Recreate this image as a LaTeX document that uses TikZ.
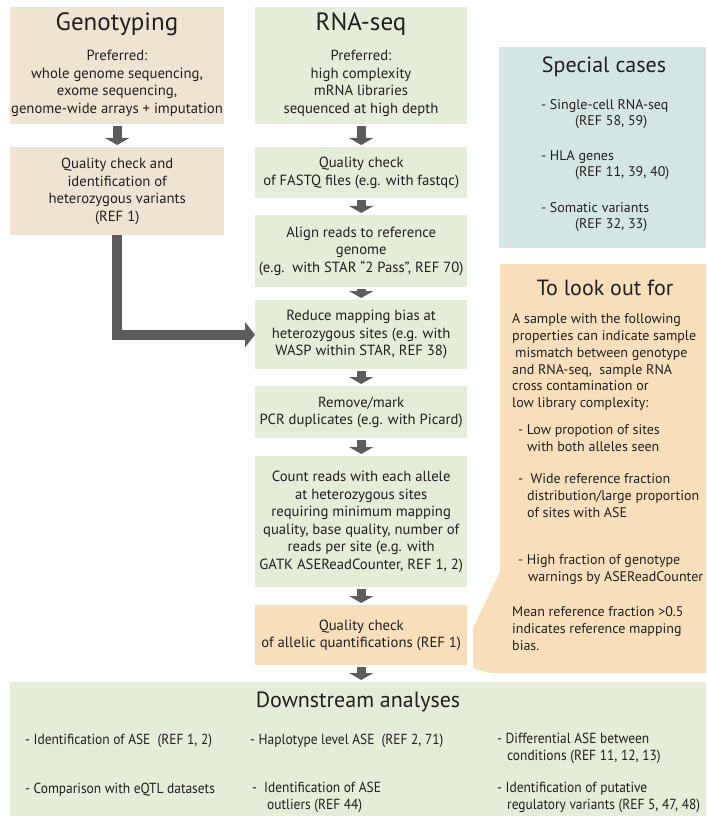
\documentclass[tikz,border=0pt]{standalone}
\usepackage{fontspec}
\setmainfont{PT Sans}
\usetikzlibrary{arrows.meta}
\definecolor{genocol}{HTML}{EFE3D1}
\definecolor{rnacol}{HTML}{E3EDD7}
\definecolor{specialcol}{HTML}{D4E6E4}
\definecolor{lookcol}{HTML}{F8DFBB}
\definecolor{arrowcol}{HTML}{5C5C5C}
\definecolor{inkcol}{HTML}{231F20}
\newcommand{\bodyfont}{\fontsize{14.7}{17.5}\selectfont}
\newcommand{\headfont}{\fontsize{25}{28}\selectfont}
\newcommand{\subheadfont}{\fontsize{22}{26}\selectfont}
\newcommand{\smallfont}{\fontsize{14}{16.5}\selectfont}
\newcommand{\lookfont}{\fontsize{14}{16.8}\selectfont}
\newcommand{\narrowfont}{\fontsize{14.6}{17}\selectfont\addfontfeature{FakeStretch=0.92}}
\begin{document}
\begin{tikzpicture}[x=1pt,y=-1pt,
  box/.style={anchor=north west, inner sep=0pt, align=center, text=inkcol, font=\bodyfont},
  genobox/.style={box, fill=genocol},
  rnabox/.style={box, fill=rnacol},
  lookbox/.style={box, fill=lookcol},
  txt/.style={inner sep=0pt, text=inkcol, font=\bodyfont, align=center},
  ltxt/.style={txt, align=left, anchor=north west, execute at begin node=\strut},
  flow/.style={draw=arrowcol, line width=9pt, -{Triangle[width=24pt,length=7pt]}, shorten <=2pt, shorten >=2pt},
  bigflow/.style={draw=arrowcol, line width=10pt, -{Triangle[width=25pt,length=10pt]}}]
\useasboundingbox (0,0) rectangle (706,818);

% genotyping column
\node[genobox, minimum width=214pt, minimum height=117pt] (geno) at (10,7) {};
\node[txt, font=\headfont] (genotitle) at (117,24) {Genotyping};
\node[txt] (genotext) at (117,83.5) {Preferred:\\whole genome sequencing,\\exome sequencing,\\genome-wide arrays + imputation};
\node[genobox, minimum width=214pt, minimum height=88pt] (geqc) at (10,147)
  {Quality check and\\identification of\\heterozygous variants\\(REF 1)};

% RNA-seq column
\node[rnabox, minimum width=212pt, minimum height=117pt] (rna) at (255,7) {};
\node[txt, font=\headfont] (rnatitle) at (361,24) {RNA-seq};
\node[txt] (rnatext) at (361,83.5) {Preferred:\\high complexity\\mRNA libraries\\sequenced at high depth};
\node[rnabox, minimum width=212pt, minimum height=51pt] (fastq) at (255,147)
  {Quality check\\of FASTQ files (e.g. with fastqc)};
\node[rnabox, minimum width=212pt, minimum height=72pt] (align) at (255,215)
  {Align reads to reference\\genome\\(e.g.\ \ with STAR “2 Pass”, REF 70)};
\node[rnabox, minimum width=212pt, minimum height=69pt] (reduce) at (255,300)
  {Reduce mapping bias at\\heterozygous sites (e.g. with\\WASP within STAR, REF 38)};
\node[rnabox, minimum width=212pt, minimum height=52pt] (remove) at (255,386)
  {Remove/mark\\PCR duplicates (e.g. with Picard)};
\node[rnabox, minimum width=212pt, minimum height=131pt] (count) at (255,456)
  {Count reads with each allele\\at heterozygous sites\\requiring minimum mapping\\quality, base quality, number of\\reads per site (e.g. with\\GATK ASEReadCounter, REF 1, 2)};
\node[lookbox, minimum width=212pt, minimum height=60pt] (qcase) at (255,605)
  {Quality check\\of allelic quantifications (REF 1)};

% special cases
\node[box, fill=specialcol, minimum width=207pt, minimum height=201pt] (special) at (499,47) {};
\node[txt, font=\subheadfont] (specialtitle) at (604,67) {Special cases};
\node[ltxt, font=\smallfont] (sc1) at (541,99) {- Single-cell RNA-seq\\\hspace*{34pt}(REF 58, 59)};
\node[ltxt, font=\smallfont] (sc2) at (541,150) {- HLA genes\\\hspace*{34pt}(REF 11, 39, 40)};
\node[ltxt, font=\smallfont] (sc3) at (541,202) {- Somatic variants\\\hspace*{34pt}(REF 32, 33)};

% things to look out for, with its pointer
\fill[lookcol] (500,264) -| (706,673) -- (490,673) -- (473,668) -- (473,628) -- (500,572) -- cycle;
\node[txt, font=\subheadfont] (looktitle) at (605,288) {To look out for};
\node[ltxt, font=\lookfont] (lookintro) at (512,313.5)
  {A sample with the following\\properties can indicate sample\\\hspace*{3pt}mismatch between genotype\\and RNA-seq,\ \ sample RNA\\cross contamination or\\low library complexity:};
\node[ltxt, font=\lookfont] (look1) at (518,424.5)
  {- Low propotion of sites\\\hspace*{9pt}with both alleles seen};
\node[ltxt, font=\lookfont] (look2) at (518,473.5)
  {-\ \ Wide reference fraction\\\hspace*{9pt}distribution/large proportion\\\hspace*{9pt}of sites with ASE};
\node[ltxt, font=\lookfont] (look3) at (518,554.5)
  {- High fraction of genotype\\\hspace*{10pt}warnings by ASEReadCounter};
\node[ltxt, font=\lookfont] (look4) at (512,606.5)
  {Mean reference fraction >0.5\\indicates reference mapping\\bias.};

% downstream analyses
\node[rnabox, minimum width=696pt, minimum height=134pt] (down) at (10,682) {};
\node[txt, font=\subheadfont] (downtitle) at (358,702) {Downstream analyses};
\node[ltxt, font=\narrowfont] (ds1) at (25,732.5) {- Identification of ASE\ \ (REF 1, 2)};
\node[ltxt, font=\narrowfont] (ds2) at (250,732.5) {- Haplotype level ASE\ \ (REF 2, 71)};
\node[ltxt, font=\narrowfont] (ds3) at (497,732.5) {- Differential ASE between\\\hspace*{10pt}conditions (REF 11, 12, 13)};
\node[ltxt, font=\narrowfont] (ds4) at (25,781.5) {- Comparison with eQTL datasets};
\node[ltxt, font=\narrowfont] (ds5) at (252,781.5) {-\ \ Identification of ASE\\\hspace*{15pt}outliers (REF 44)};
\node[ltxt, font=\narrowfont] (ds6) at (497,781.5) {- Identification of putative\\\hspace*{10pt}regulatory variants (REF 5, 47, 48)};

% arrows
\draw[flow] (geno) -- (geqc);
\draw[flow] (rna) -- (fastq);
\draw[flow] (fastq) -- (align);
\draw[flow] (align) -- (reduce);
\draw[flow] (reduce) -- (remove);
\draw[flow] (remove) -- (count);
\draw[flow] (count) -- (qcase);
\draw[flow] (qcase.south) -- (qcase.south |- down.north);
\draw[bigflow] (geqc.south) |- (reduce.west);
\end{tikzpicture}
\end{document}
